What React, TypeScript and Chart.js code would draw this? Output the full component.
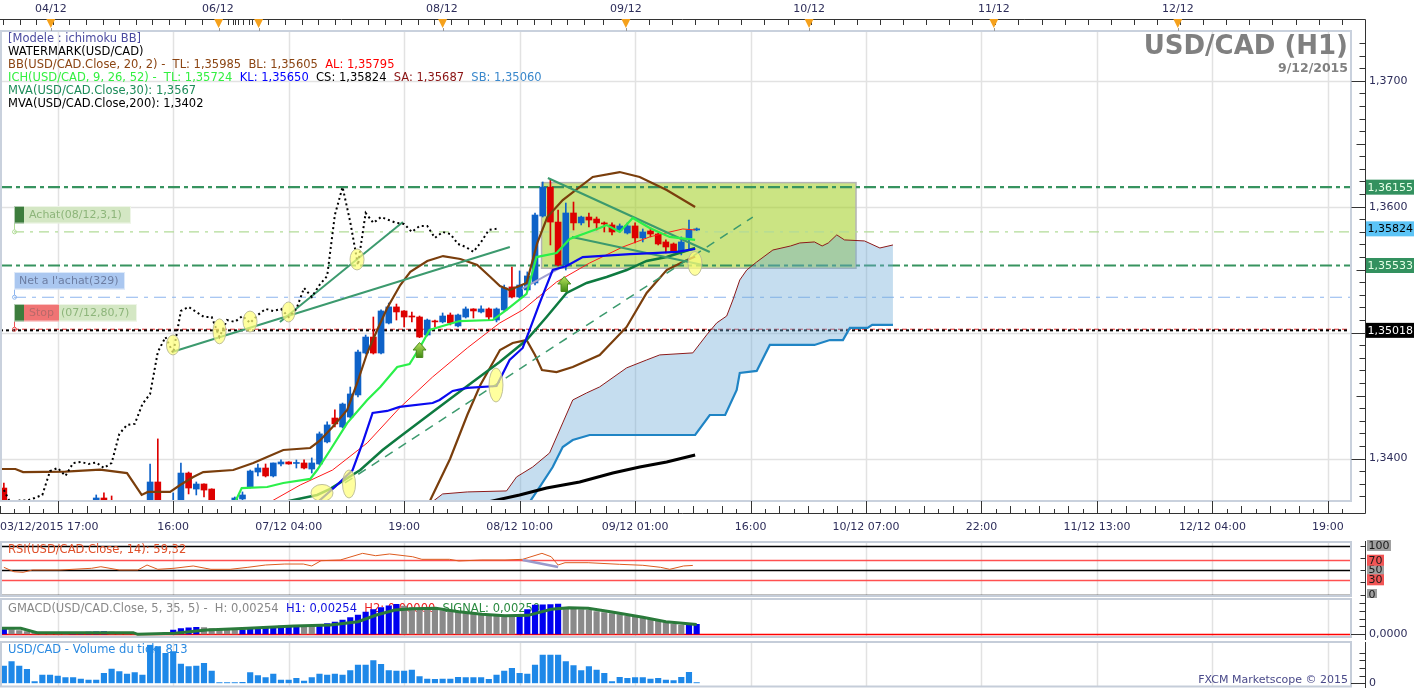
import React, { useEffect, useRef } from "react";
import { Chart, registerables } from "chart.js";

Chart.register(...registerables);

const FONT = '"DejaVu Sans", Verdana, sans-serif';
const X_MIN = -0.5;
const X_MAX = 175;
const PRICE_MIN = 1.33663;
const PRICE_MAX = 1.37395;

// ---------------- candles (hourly, index 0..90) ----------------
const opens = [1.33766,1.3362,1.3356,1.3359,1.336,1.3362,1.336,1.3361,1.3359,1.336,1.3358,1.3361,1.3364,1.33687,1.3365,1.336,1.3362,1.3363,1.3361,1.3364,1.33814,1.3363,1.3362,1.3364,1.33885,1.33758,1.33798,1.33758,1.3363,1.33635,1.3364,1.33679,1.33774,1.33893,1.33925,1.33862,1.33957,1.33973,1.33961,1.33965,1.33917,1.33957,1.34132,1.34322,1.34251,1.3433,1.34505,1.34838,1.34965,1.34838,1.35076,1.35204,1.35172,1.35132,1.35124,1.34981,1.35092,1.35085,1.3514,1.35053,1.35124,1.35188,1.35164,1.35188,1.351,1.3518,1.35363,1.35283,1.35339,1.35394,1.35926,1.36156,1.35878,1.35537,1.3595,1.35871,1.35918,1.35902,1.35871,1.35855,1.35815,1.35791,1.35847,1.35752,1.35807,1.35783,1.3572,1.35704,1.35641,1.35752,1.35815];
const highs = [1.33806,1.33645,1.3361,1.3363,1.3364,1.3365,1.3364,1.33645,1.3362,1.3363,1.3362,1.3365,1.33711,1.33727,1.33703,1.3364,1.3365,1.33655,1.3365,1.33957,1.34156,1.33655,1.33727,1.33965,1.33893,1.33814,1.338,1.3376,1.33668,1.33668,1.33695,1.33735,1.33909,1.33957,1.33957,1.33965,1.33989,1.33975,1.33989,1.33989,1.34005,1.34211,1.34291,1.34386,1.34441,1.34568,1.34862,1.34981,1.35124,1.3518,1.35235,1.35227,1.35175,1.35164,1.35132,1.35108,1.351,1.35156,1.35156,1.35148,1.35204,1.3519,1.35212,1.35196,1.35196,1.35378,1.35521,1.3549,1.35482,1.3595,1.36196,1.36212,1.35974,1.36029,1.36037,1.35925,1.3595,1.35918,1.35879,1.35871,1.35863,1.35871,1.35871,1.35823,1.35831,1.35791,1.35736,1.35712,1.3576,1.35894,1.35831];
const lows = [1.3358,1.3354,1.3353,1.3356,1.3357,1.3358,1.3357,1.3358,1.3356,1.3357,1.3355,1.3359,1.3362,1.3362,1.3358,1.3356,1.3359,1.3359,1.3358,1.3362,1.336,1.3358,1.336,1.3362,1.33719,1.33711,1.33695,1.336,1.336,1.3361,1.3362,1.33671,1.33766,1.33862,1.33854,1.33854,1.33941,1.33955,1.33925,1.33917,1.33885,1.3395,1.34124,1.34251,1.34243,1.34322,1.34489,1.3483,1.3483,1.3483,1.35069,1.351,1.35045,1.35085,1.3496,1.34973,1.35045,1.35077,1.35061,1.35045,1.35116,1.35116,1.35156,1.351,1.35085,1.35172,1.35275,1.35275,1.35331,1.35378,1.35918,1.35696,1.3553,1.35497,1.35815,1.35855,1.35839,1.35815,1.35799,1.35776,1.35799,1.35783,1.35712,1.3572,1.3576,1.35696,1.35633,1.35633,1.35617,1.35657,1.3581];
const closes = [1.3362,1.3356,1.3359,1.336,1.3362,1.336,1.3361,1.3359,1.336,1.3358,1.3361,1.3363,1.33687,1.33645,1.336,1.3362,1.3363,1.3361,1.3364,1.33814,1.3363,1.3364,1.33655,1.33885,1.33766,1.33798,1.3375,1.3363,1.33666,1.33666,1.33687,1.33711,1.33901,1.33925,1.33862,1.33965,1.33973,1.33957,1.33969,1.33925,1.33965,1.34196,1.34267,1.34275,1.34433,1.34513,1.34846,1.34965,1.34838,1.35172,1.35204,1.35164,1.35124,1.35124,1.34965,1.351,1.35085,1.35132,1.35077,1.3514,1.35188,1.35172,1.35188,1.35124,1.35188,1.35355,1.35283,1.35378,1.3545,1.35934,1.36156,1.35878,1.35537,1.3595,1.35871,1.35918,1.35894,1.35871,1.35863,1.35799,1.35847,1.35847,1.35752,1.35799,1.35783,1.35704,1.3568,1.35641,1.3572,1.35815,1.35824];
const CHIKOU_SHIFT = 26;

// ---------------- indicator lines: [bar index, price] ----------------
const bbUpper = [[-0.5,1.33917],[1.5,1.33917],[2.5,1.33893],[8.0,1.33896],[12.5,1.33912],[16.0,1.33885],[17.9,1.33711],[18.7,1.33735],[21.6,1.33735],[22.9,1.3379],[24.6,1.33854],[25.9,1.33893],[29.8,1.33909],[32.4,1.33965],[34.2,1.34012],[36.3,1.34068],[39.8,1.34084],[41.0,1.3414],[42.7,1.34251],[44.6,1.34386],[45.9,1.346],[47.2,1.34838],[48.5,1.35021],[49.8,1.35196],[51.5,1.35378],[52.8,1.35482],[55.0,1.35569],[57.05,1.35608],[59.3,1.35585],[61.5,1.35537],[63.2,1.35442],[64.45,1.3537],[65.7,1.35338],[67.9,1.35394],[69.3,1.35712],[70.6,1.35918],[72.6,1.36053],[76.5,1.36236],[80.0,1.36275],[82.6,1.36236],[86.1,1.36133],[89.8,1.35998]];
const bbLower = [[54.8,1.336],[55.4,1.33671],[57.96,1.33997],[60.2,1.34346],[61.9,1.34584],[64.45,1.34862],[66.1,1.34918],[67.9,1.34941],[69.0,1.34822],[69.9,1.34703],[71.8,1.34687],[73.9,1.34727],[77.4,1.34822],[80.9,1.35045],[83.5,1.35315],[86.1,1.35497],[88.2,1.35561],[89.8,1.35605]];
const bbMid = [[33.0,1.336],[38.5,1.3379],[42.7,1.33909],[47.2,1.34124],[51.4,1.34402],[55.7,1.34648],[60.2,1.34878],[64.4,1.35076],[67.4,1.3518],[71.8,1.35402],[76.1,1.35553],[80.4,1.3568],[83.9,1.3576],[86.5,1.35799],[88.2,1.35823],[89.8,1.35815]];
const tenkan = [[30.0,1.3365],[30.9,1.33766],[34.2,1.33774],[36.3,1.33806],[39.8,1.33838],[40.7,1.33909],[42.4,1.34068],[44.6,1.34282],[47.2,1.34465],[48.9,1.34568],[51.1,1.34727],[52.7,1.34751],[54.0,1.34878],[55.3,1.35021],[57.0,1.35053],[59.2,1.35092],[63.5,1.351],[65.3,1.3518],[67.9,1.35307],[69.2,1.356],[71.8,1.35632],[73.5,1.35744],[77.4,1.35831],[78.3,1.35855],[80.0,1.35799],[81.7,1.3591],[83.9,1.35831],[86.5,1.3576],[89.8,1.35736]];
const kijun = [[40.5,1.3364],[43.0,1.33774],[45.3,1.33909],[46.6,1.34124],[47.9,1.34362],[49.8,1.34378],[51.4,1.3441],[55.7,1.34441],[56.6,1.34465],[58.3,1.34537],[60.2,1.34561],[64.0,1.34576],[65.7,1.34783],[67.4,1.34878],[68.3,1.35021],[69.6,1.35235],[71.3,1.35497],[73.1,1.35529],[75.2,1.356],[81.3,1.35624],[84.3,1.35632],[87.4,1.35641],[89.8,1.35664]];
const senkouA = [[55.3,1.3364],[57.0,1.33719],[60.2,1.33735],[65.3,1.33743],[66.6,1.33854],[68.7,1.33933],[70.9,1.34045],[72.6,1.34283],[73.9,1.34465],[75.7,1.34521],[77.4,1.34569],[80.9,1.3472],[83.5,1.34783],[85.2,1.34823],[89.5,1.34839],[91.3,1.34982],[92.6,1.35077],[93.9,1.35132],[94.7,1.35259],[95.6,1.35418],[96.5,1.35497],[97.8,1.35561],[99.9,1.35656],[102.2,1.35688],[103.4,1.35712],[105.3,1.3572],[106.3,1.35688],[107.1,1.35712],[108.2,1.35776],[109.2,1.35736],[111.8,1.35728],[113.8,1.35672],[115.5,1.35696]];
const senkouB = [[55.3,1.335],[68.3,1.33655],[69.6,1.33774],[71.3,1.33933],[72.6,1.34092],[73.9,1.34147],[76.1,1.34187],[89.8,1.34187],[91.7,1.34346],[93.7,1.34346],[95.2,1.34545],[95.6,1.3468],[97.8,1.34696],[99.5,1.34902],[105.3,1.34902],[107.3,1.34941],[109.0,1.34941],[109.9,1.35037],[112.2,1.35037],[112.8,1.35061],[115.5,1.35061]];
const mva30 = [[36.0,1.3365],[40.7,1.33711],[42.4,1.33759],[46.3,1.33909],[49.2,1.34068],[51.4,1.34172],[55.7,1.3437],[60.2,1.34576],[64.4,1.34767],[67.9,1.34941],[70.5,1.35124],[73.1,1.35315],[75.7,1.35394],[78.3,1.35442],[80.9,1.35497],[83.5,1.35569],[86.1,1.356],[89.8,1.35672]];
const mva200 = [[62.5,1.3365],[67.0,1.33711],[70.5,1.33766],[74.8,1.33814],[79.1,1.33885],[82.6,1.33933],[86.1,1.33973],[89.8,1.34028]];

// drawn objects (bar index / price)
const trendLines = [[21.84,1.34846,65.73,1.3568],[35.86,1.35084,51.84,1.35878],[70.67,1.36228,91.7,1.3564],[73.79,1.35759,90.8,1.35537]];
const dashedTrend = [44.3,1.33806,97.29,1.35918];
const minorTrend = [67.3,1.35347,72.5,1.35522];
const zoneIdx = [69.85, 110.7];
const zonePrice = [1.36191, 1.35511];
const levelPrices = [1.36155, 1.35533, 1.358, 1.35281, 1.35027, 1.35018];
const ellipseIdx = [21.97, 28.01, 31.98, 36.98, 45.88, 41.33, 44.84, 63.93, 89.78];
const ellipsePrice = [1.34902, 1.3501, 1.35088, 1.35164, 1.35581, 1.33727, 1.33798, 1.34584, 1.35549];
const arrowIdx = [54.0, 72.8];
const arrowPrice = [1.34862, 1.35386];

// axes
const priceTicks = [1.34, 1.35, 1.36, 1.37];
const timeTickIdx = [7, 22, 37, 52, 67, 82, 97, 112, 127, 142, 157, 172];
const timeTickLabels = ["03/12/2015 17:00", "16:00", "07/12 04:00", "19:00", "08/12 10:00", "09/12 01:00", "16:00", "10/12 07:00", "22:00", "11/12 13:00", "12/12 04:00", "19:00"];
const topDateIdx = [6.1, 27.8, 56.9, 80.8, 104.6, 128.6, 152.5];
const topDateLabels = ["04/12", "06/12", "08/12", "09/12", "10/12", "11/12", "12/12"];
const topMarkerIdx = [6.1, 27.9, 33.1, 57.0, 80.8, 104.6, 128.6, 152.5];

// lower panels
const rsi = [[0,55.5],[1.3,46.5],[2.5,45.3],[3.7,50],[7.3,50],[11.4,53.5],[12.6,56.7],[15.0,50],[17.4,50],[18.6,60.2],[20.0,51.4],[22.1,53.5],[24.6,58.2],[26.9,51.4],[29.4,51.4],[31.7,55.5],[34.0,60.2],[36.5,62.2],[38.9,62.2],[40.0,58.2],[41.2,69],[43.7,70.4],[46.6,84],[48.3,79.2],[50.1,82.7],[53.1,77.1],[54.3,71.8],[57.9,71.8],[59.1,68.4],[62.1,70.4],[65.1,70.4],[67.4,71.8],[69.9,84],[71.1,77.1],[72.0,60.2],[72.9,64.9],[75.9,64.9],[80.0,61.6],[83.0,59.6],[85.3,55.5],[86.5,51.4],[88.3,58.2],[89.5,59.32]];
const rsiDivergence = [[67.4,70.4],[72.0,56.0]];
const rsiLevels = [100, 70, 50, 30, 0];
const macdHist = [0.00157,0.00118,0.00092,0.00066,0.00052,0.00039,0.00031,0.00026,0.00024,0.00026,0.00039,0.00052,0.0006,0.00063,0.00052,0.00039,0.00026,0.00016,0.0001,0.00008,0.00013,0.00031,0.00105,0.00144,0.00162,0.00176,0.00168,0.00144,0.00121,0.00105,0.00094,0.0011,0.00144,0.00168,0.00183,0.00197,0.0021,0.0022,0.00228,0.00215,0.00199,0.00236,0.00275,0.00314,0.00367,0.00432,0.00498,0.00576,0.00642,0.00694,0.00741,0.00778,0.00734,0.00694,0.00668,0.00655,0.00629,0.00616,0.00603,0.00584,0.0055,0.00524,0.00498,0.00485,0.00472,0.00453,0.00445,0.00466,0.00642,0.00755,0.00765,0.00773,0.00781,0.00655,0.00645,0.00637,0.00629,0.0059,0.00563,0.00537,0.00506,0.00472,0.00445,0.00419,0.00393,0.00354,0.00301,0.00262,0.00236,0.00246,0.00254];
const macdSignal = [[-0.5,0.00149],[2.2,0.00149],[4.3,0.00034],[16.8,0.00034],[17.4,-0.00009],[22.2,0.00018],[26.3,0.00105],[31.7,0.00149],[37.7,0.0021],[42.4,0.00236],[46.0,0.00323],[48.4,0.00498],[50.8,0.00629],[53.1,0.00664],[56.1,0.00672],[59.1,0.00585],[62.1,0.00515],[65.1,0.0048],[68.1,0.00489],[71.1,0.00646],[73.4,0.0069],[75.9,0.00672],[78.8,0.00585],[83.0,0.00437],[86.0,0.00323],[90.0,0.0025]];
const volumes = [22500,28100,22500,18200,2100,10800,10800,9500,7300,7300,5600,4300,4300,13000,18600,15100,12100,13800,10800,49800,47600,39000,41100,25100,21600,22500,26000,16000,800,800,800,1300,13800,10000,7300,12100,4300,4300,6500,3000,7300,12100,10800,12100,10800,16400,23800,23800,29400,24700,16400,16000,16000,17300,8600,5600,5200,5600,5600,7800,7300,7300,7300,5200,10800,16000,19500,13000,12100,23800,36800,36800,36800,28100,22900,16400,21600,17300,13000,2100,7800,6500,7300,7300,5600,6500,4300,3400,7800,14300,813];

// ---------------- helpers ----------------
const pts = (arr: number[][]) => arr.map(([x, y]) => ({ x, y }));
const fmt4 = (p: number) => p.toFixed(4).replace(".", ",");
const fmt5 = (p: number) => p.toFixed(5).replace(".", ",");

function seg(ctx: any, x1: number, y1: number, x2: number, y2: number) {
  ctx.beginPath();
  ctx.moveTo(x1, y1);
  ctx.lineTo(x2, y2);
  ctx.stroke();
}

function drawParts(ctx: any, x: number, y: number, parts: [string, string][]) {
  let cx = x;
  for (const [t, c] of parts) {
    ctx.fillStyle = c;
    ctx.fillText(t, cx, y);
    cx += ctx.measureText(t).width;
  }
}

function baseOptions(padding: any, yMin: number, yMax: number) {
  return {
    animation: false,
    responsive: false,
    maintainAspectRatio: false,
    events: [],
    layout: { padding },
    scales: {
      x: { type: "linear", min: X_MIN, max: X_MAX, display: false, offset: false },
      y: { type: "linear", min: yMin, max: yMax, display: false },
    },
    plugins: { legend: { display: false }, tooltip: { enabled: false } },
  } as any;
}

function vGrid(ctx: any, xs: any, top: number, bottom: number) {
  ctx.strokeStyle = "#e2e2e2";
  ctx.lineWidth = 1.5;
  timeTickIdx.forEach((t) => {
    const px = Math.round(xs.getPixelForValue(t)) + 0.5;
    seg(ctx, px, top, px, bottom);
  });
}

const AXIS_X = 1365.5;
const PLOT_R = 1351;

// ---------------- main panel plugin ----------------
const levelStyles = [
  { color: "#37935f", width: 2.2, dash: [12, 4, 4, 4], from: X_MIN },
  { color: "#37935f", width: 2.2, dash: [12, 4, 4, 4], from: X_MIN },
  { color: "#b2dc98", width: 1.2, dash: [10, 6, 3, 6], from: 1.32 },
  { color: "#8db5ee", width: 1.2, dash: [12, 6, 4, 6], from: 1.32 },
  { color: "#ee3030", width: 1, dash: [5, 3], from: 1.32 },
  { color: "#000000", width: 2, dash: [3, 3], from: X_MIN },
];
const ellipseRx = [6.5, 6.5, 7, 6.5, 7, 11, 6.5, 7, 7];
const ellipseRy = [10, 12.5, 10.5, 10, 10.5, 8.5, 14, 17, 12];

const mainPlugin = {
  id: "mainDecor",
  beforeDatasetsDraw(chart: any) {
    const { ctx, chartArea: a, scales } = chart;
    const xs = scales.x, ys = scales.y;
    ctx.save();
    vGrid(ctx, xs, a.top, a.bottom);
    priceTicks.forEach((p) => {
      const py = Math.round(ys.getPixelForValue(p)) + 0.5;
      seg(ctx, a.left, py, a.right, py);
    });
    // zone rectangle
    const zx1 = xs.getPixelForValue(zoneIdx[0]), zx2 = xs.getPixelForValue(zoneIdx[1]);
    const zy1 = ys.getPixelForValue(zonePrice[0]), zy2 = ys.getPixelForValue(zonePrice[1]);
    ctx.fillStyle = "rgba(160,205,30,0.55)";
    ctx.fillRect(zx1, zy1, zx2 - zx1, zy2 - zy1);
    ctx.strokeStyle = "#b4b4b4";
    ctx.lineWidth = 1.5;
    ctx.strokeRect(zx1, zy1, zx2 - zx1, zy2 - zy1);
    // horizontal levels
    levelPrices.forEach((p, k) => {
      const st = levelStyles[k];
      const py = ys.getPixelForValue(p);
      ctx.strokeStyle = st.color;
      ctx.lineWidth = st.width;
      ctx.setLineDash(st.dash);
      seg(ctx, Math.max(a.left, xs.getPixelForValue(st.from)), py, a.right, py);
    });
    ctx.setLineDash([]);
    ctx.restore();
  },
  afterDatasetsDraw(chart: any) {
    const { ctx, chartArea: a, scales } = chart;
    const xs = scales.x, ys = scales.y;
    ctx.save();
    ctx.beginPath();
    ctx.rect(a.left, a.top, a.right - a.left, a.bottom - a.top);
    ctx.clip();
    ellipseIdx.forEach((t, k) => {
      const cx = xs.getPixelForValue(t), cy = ys.getPixelForValue(ellipsePrice[k]);
      ctx.beginPath();
      ctx.ellipse(cx, cy, ellipseRx[k], ellipseRy[k], 0, 0, Math.PI * 2);
      ctx.fillStyle = "rgba(255,255,120,0.72)";
      ctx.fill();
      ctx.strokeStyle = "rgba(185,185,150,0.9)";
      ctx.lineWidth = 1;
      ctx.stroke();
    });
    arrowIdx.forEach((t, k) => {
      const cx = xs.getPixelForValue(t), cy = ys.getPixelForValue(arrowPrice[k]);
      const w = 13, h = 15, top = cy - h / 2;
      const g = ctx.createLinearGradient(0, top, 0, top + h);
      g.addColorStop(0, "#b8e35e");
      g.addColorStop(1, "#3f8a12");
      ctx.beginPath();
      ctx.moveTo(cx, top);
      ctx.lineTo(cx + w / 2, top + h * 0.5);
      ctx.lineTo(cx + w * 0.25, top + h * 0.5);
      ctx.lineTo(cx + w * 0.25, top + h);
      ctx.lineTo(cx - w * 0.25, top + h);
      ctx.lineTo(cx - w * 0.25, top + h * 0.5);
      ctx.lineTo(cx - w / 2, top + h * 0.5);
      ctx.closePath();
      ctx.fillStyle = g;
      ctx.fill();
      ctx.strokeStyle = "#4c8a1e";
      ctx.lineWidth = 1;
      ctx.stroke();
    });
    // order label boxes
    const x0 = Math.round(xs.getPixelForValue(1.32));
    ctx.font = `11px ${FONT}`;
    ctx.textBaseline = "middle";
    const boxes = [
      { price: levelPrices[2], color: "#b2dc98", parts: [{ w: 10, bg: "#3d7d3d" }, { w: 107, bg: "#d4e7c4", text: "Achat(08/12,3,1)", fg: "#8db57a", pad: 5 }] },
      { price: levelPrices[3], color: "#8db5ee", parts: [{ w: 111, bg: "#aac7f0", text: "Net a l'achat(329)", fg: "#6c7da2", pad: 5 }] },
      { price: levelPrices[4], color: "#ee5050", parts: [{ w: 10, bg: "#3d7d3d" }, { w: 35, bg: "#f07474", text: "Stop", fg: "#b86a6a", pad: 5 }, { w: 78, bg: "#d4e7c4", text: "(07/12,80,7)", fg: "#8db57a", pad: 2 }] },
    ];
    boxes.forEach((b) => {
      const ly = ys.getPixelForValue(b.price);
      const top = Math.round(ly - 25.5), h = 17.5;
      ctx.strokeStyle = b.color;
      ctx.lineWidth = 1;
      seg(ctx, x0 + 0.5, top + h, x0 + 0.5, ly - 2);
      ctx.beginPath();
      ctx.arc(x0 + 0.5, ly, 2, 0, Math.PI * 2);
      ctx.stroke();
      let cx = x0;
      b.parts.forEach((p: any) => {
        ctx.fillStyle = p.bg;
        ctx.fillRect(cx, top, p.w, h);
        if (p.text) {
          ctx.fillStyle = p.fg;
          ctx.fillText(p.text, cx + p.pad, top + h / 2 + 0.5);
        }
        cx += p.w;
      });
      ctx.strokeStyle = "rgba(255,255,255,0.6)";
      ctx.strokeRect(x0 + 0.5, top + 0.5, cx - x0 - 1, h - 1);
    });
    ctx.restore();
  },
  afterDraw(chart: any) {
    const { ctx, chartArea: a, scales } = chart;
    const xs = scales.x, ys = scales.y;
    ctx.save();
    // frame
    ctx.strokeStyle = "#c9d1dd";
    ctx.lineWidth = 2;
    ctx.strokeRect(a.left + 1, a.top, a.right - a.left - 1, a.bottom - a.top);
    // axes lines
    ctx.strokeStyle = "#333";
    ctx.lineWidth = 1;
    seg(ctx, 0, 19.5, AXIS_X, 19.5);
    seg(ctx, AXIS_X, 19.5, AXIS_X, 513.5);
    seg(ctx, 0, 513.5, AXIS_X, 513.5);
    // top strip ticks
    const topTicks: number[] = [];
    for (let t = -0.12; t < 77; t += 2.156) topTicks.push(t);
    for (let t = 77.8; t <= X_MAX; t += 3) topTicks.push(t);
    [29.1, 29.8, 30.4, 31.1, 31.8].forEach((t) => topTicks.push(t));
    topTicks.forEach((t) => {
      const px = Math.round(xs.getPixelForValue(t)) + 0.5;
      if (px < AXIS_X) seg(ctx, px, 19.5, px, 25);
    });
    ctx.font = `11px ${FONT}`;
    ctx.fillStyle = "#2d2d5a";
    ctx.textAlign = "center";
    ctx.textBaseline = "middle";
    topDateIdx.forEach((t, k) => ctx.fillText(topDateLabels[k], xs.getPixelForValue(t), 9));
    topMarkerIdx.forEach((t) => {
      const px = xs.getPixelForValue(t);
      ctx.fillStyle = "#f5a11c";
      ctx.beginPath();
      ctx.moveTo(px - 4.5, 19);
      ctx.lineTo(px + 4.5, 19);
      ctx.lineTo(px, 28);
      ctx.closePath();
      ctx.fill();
      ctx.strokeStyle = "#999";
      seg(ctx, Math.round(px) + 0.5, 28, Math.round(px) + 0.5, a.top);
    });
    // right price axis ticks
    ctx.strokeStyle = "#333";
    for (let k = 1337; k <= 1373; k++) {
      const p = k / 1000;
      const py = Math.round(ys.getPixelForValue(p)) + 0.5;
      const len = k % 10 === 0 ? 14 : k % 5 === 0 ? 9 : 6;
      seg(ctx, AXIS_X - len, py, AXIS_X, py);
    }
    ctx.textAlign = "left";
    ctx.fillStyle = "#2d2d5a";
    priceTicks.forEach((p) => ctx.fillText(fmt4(p), 1369, ys.getPixelForValue(p)));
    // bottom time axis
    for (let k = -4; k * (15 / 8) + 7 <= X_MAX; k++) {
      const t = 7 + (k * 15) / 8;
      const px = Math.round(xs.getPixelForValue(t)) + 0.5;
      if (px < 0 || px > AXIS_X) continue;
      const m = ((k % 8) + 8) % 8;
      const top = m === 0 ? a.bottom : m % 2 === 0 ? 506 : 509;
      seg(ctx, px, top, px, 513.5);
    }
    ctx.fillStyle = "#2d2d5a";
    ctx.textAlign = "center";
    timeTickIdx.forEach((t, k) => {
      let px = xs.getPixelForValue(t);
      const w = ctx.measureText(timeTickLabels[k]).width;
      if (px - w / 2 < 10) px = w / 2;
      ctx.fillText(timeTickLabels[k], px, 527.5);
    });
    // price boxes
    const boxP = [levelPrices[0], closes[closes.length - 1], levelPrices[1], levelPrices[5]];
    const boxBg = ["#33915f", "#5cc4f6", "#33915f", "#000000"];
    const boxFg = ["#e6ffe6", "#000000", "#e6ffe6", "#ffffff"];
    ctx.textAlign = "left";
    boxP.forEach((p, k) => {
      const py = ys.getPixelForValue(p);
      ctx.fillStyle = boxBg[k];
      ctx.fillRect(1366, py - 7.5, 48, 15);
      ctx.fillStyle = boxFg[k];
      ctx.fillText(fmt5(p), 1367.5, py + 0.5);
    });
    // legend text
    ctx.font = `11.5px ${FONT}`;
    ctx.textBaseline = "middle";
    const lx = 8;
    drawParts(ctx, lx, 39, [["[Modele : ichimoku BB]", "#4b4ba0"]]);
    drawParts(ctx, lx, 52, [["WATERMARK(USD/CAD)", "#000000"]]);
    drawParts(ctx, lx, 65, [["BB(USD/CAD.Close, 20, 2) -  TL: 1,35985  BL: 1,35605  ", "#8b4513"], ["AL: 1,35795", "#ff0000"]]);
    drawParts(ctx, lx, 78, [["ICH(USD/CAD, 9, 26, 52) -  TL: 1,35724  ", "#33f040"], ["KL: 1,35650  ", "#0000ff"], ["CS: 1,35824  ", "#000000"], ["SA: 1,35687  ", "#8b1414"], ["SB: 1,35060", "#3a88cc"]]);
    drawParts(ctx, lx, 91, [["MVA(USD/CAD.Close,30): 1,3567", "#1e8c5a"]]);
    drawParts(ctx, lx, 104, [["MVA(USD/CAD.Close,200): 1,3402", "#000000"]]);
    // title
    ctx.textAlign = "right";
    ctx.textBaseline = "alphabetic";
    ctx.fillStyle = "#808080";
    ctx.font = `bold 26px ${FONT}`;
    ctx.fillText("USD/CAD (H1)", 1348, 54);
    ctx.font = `bold 12.5px ${FONT}`;
    ctx.fillText("9/12/2015", 1348, 72);
    ctx.restore();
  },
};

// ---------------- lower panels ----------------
function panelFrame(ctx: any, top: number, bottom: number) {
  ctx.strokeStyle = "#c5cdd9";
  ctx.lineWidth = 2;
  ctx.strokeRect(1, top, PLOT_R - 1, bottom - top);
}

const rsiPlugin = {
  id: "rsiDecor",
  beforeDatasetsDraw(chart: any) {
    const { ctx, chartArea: a, scales } = chart;
    ctx.save();
    vGrid(ctx, scales.x, 2, 56);
    rsiLevels.forEach((l, k) => {
      const py = Math.round(scales.y.getPixelForValue(l)) + 0.5;
      ctx.strokeStyle = k % 2 === 0 ? "#000000" : "#ff5050";
      ctx.lineWidth = 1.3;
      seg(ctx, a.left, py, a.right, py);
    });
    ctx.font = `11.5px ${FONT}`;
    ctx.textBaseline = "middle";
    drawParts(ctx, 8, 10, [["RSI(USD/CAD.Close, 14): 59,32", "#e0502a"]]);
    ctx.restore();
  },
  afterDraw(chart: any) {
    const { ctx, scales } = chart;
    ctx.save();
    panelFrame(ctx, 2, 56);
    ctx.strokeStyle = "#333";
    ctx.lineWidth = 1;
    seg(ctx, AXIS_X, 1, AXIS_X, 58);
    [100, 75, 50, 25, 0].forEach((l) => {
      const py = Math.round(scales.y.getPixelForValue(l)) + 0.5;
      seg(ctx, AXIS_X - 5, py, AXIS_X, py);
    });
    ctx.font = `11px ${FONT}`;
    ctx.textBaseline = "middle";
    ctx.textAlign = "left";
    const order = [0, 2, 4, 1, 3];
    order.forEach((k) => {
      const l = rsiLevels[k];
      const py = scales.y.getPixelForValue(l);
      const t = String(l);
      const w = ctx.measureText(t).width + 3;
      ctx.fillStyle = k % 2 === 0 ? "#a0a0a0" : "#f25555";
      ctx.fillRect(1367, py - 5.5, w, 11);
      ctx.fillStyle = "#1a1a1a";
      ctx.fillText(t, 1368.5, py + 0.5);
    });
    ctx.restore();
  },
};

const macdPlugin = {
  id: "macdDecor",
  beforeDatasetsDraw(chart: any) {
    const { ctx, chartArea: a, scales } = chart;
    ctx.save();
    vGrid(ctx, scales.x, 1, 39);
    ctx.font = `11.5px ${FONT}`;
    ctx.textBaseline = "middle";
    drawParts(ctx, 8, 11, [["GMACD(USD/CAD.Close, 5, 35, 5) -  H: 0,00254  ", "#888888"], ["H1: 0,00254  ", "#1010e0"], ["H2: 0,00000  ", "#ee2020"], ["SIGNAL: 0,00250", "#2a8a40"]]);
    const zy = Math.round(scales.y.getPixelForValue(0)) + 0.5;
    ctx.strokeStyle = "#ff0000";
    ctx.lineWidth = 1.5;
    seg(ctx, a.left, zy, a.right, zy);
    ctx.restore();
  },
  afterDraw(chart: any) {
    const { ctx, scales } = chart;
    ctx.save();
    panelFrame(ctx, 1, 39);
    ctx.strokeStyle = "#333";
    ctx.lineWidth = 1;
    seg(ctx, AXIS_X, 0, AXIS_X, 42);
    [0.002, 0.004, 0.006, 0.008].forEach((v) => {
      const py = Math.round(scales.y.getPixelForValue(v)) + 0.5;
      seg(ctx, AXIS_X - 6, py, AXIS_X, py);
    });
    const zy = Math.round(scales.y.getPixelForValue(0)) + 0.5;
    seg(ctx, PLOT_R, zy, AXIS_X, zy);
    ctx.font = `11px ${FONT}`;
    ctx.textBaseline = "middle";
    ctx.fillStyle = "#2d2d5a";
    ctx.fillText("0,0000", 1369, zy);
    ctx.restore();
  },
};

const volPlugin = {
  id: "volDecor",
  beforeDatasetsDraw(chart: any) {
    const { ctx, scales } = chart;
    ctx.save();
    vGrid(ctx, scales.x, 2, 46);
    ctx.font = `11.5px ${FONT}`;
    ctx.textBaseline = "middle";
    drawParts(ctx, 8, 10, [["USD/CAD - Volume du tick: " + volumes[volumes.length - 1], "#2a8ae2"]]);
    ctx.restore();
  },
  afterDraw(chart: any) {
    const { ctx, scales } = chart;
    ctx.save();
    panelFrame(ctx, 2, 46.5);
    ctx.strokeStyle = "#333";
    ctx.lineWidth = 1;
    seg(ctx, AXIS_X, 2, AXIS_X, 48);
    [10000, 20000, 30000, 40000].forEach((v) => {
      const py = Math.round(scales.y.getPixelForValue(v)) + 0.5;
      seg(ctx, AXIS_X - 6, py, AXIS_X, py);
    });
    const zy = Math.round(scales.y.getPixelForValue(0)) + 0.5;
    seg(ctx, PLOT_R, zy, AXIS_X, zy);
    ctx.font = `11px ${FONT}`;
    ctx.textBaseline = "middle";
    ctx.fillStyle = "#2d2d5a";
    ctx.fillText("0", 1369, zy);
    ctx.textAlign = "right";
    ctx.fillStyle = "#4a4a8a";
    ctx.fillText("FXCM Marketscope © 2015", 1348, 40);
    ctx.restore();
  },
};

function line(data: any[], color: string, width: number, order: number, extra: any = {}) {
  return { type: "line", data, borderColor: color, borderWidth: width, pointRadius: 0, pointHoverRadius: 0, fill: false, tension: 0, order, ...extra };
}

export default function App() {
  const mainRef = useRef<HTMLCanvasElement>(null);
  const rsiRef = useRef<HTMLCanvasElement>(null);
  const macdRef = useRef<HTMLCanvasElement>(null);
  const volRef = useRef<HTMLCanvasElement>(null);

  useEffect(() => {
    const idx = closes.map((_, i) => i);
    const candleColors = closes.map((c, i) => (c >= opens[i] ? "#0e62c8" : "#dd0000"));
    const chikou = closes.slice(CHIKOU_SHIFT).map((c, i) => ({ x: i, y: c }));
    const seg2 = (s: number[]) => [{ x: s[0], y: s[1] }, { x: s[2], y: s[3] }];

    const mainChart = new Chart(mainRef.current as HTMLCanvasElement, {
      type: "bar",
      data: {
        datasets: [
          line(pts(senkouA), "#8b1a1a", 1, 300, { fill: "+1", backgroundColor: "rgba(110,170,215,0.4)" }),
          line(pts(senkouB), "#1f84c4", 2.2, 299),
          { type: "bar", data: idx.map((i) => ({ x: i, y: [lows[i], highs[i]] })), backgroundColor: candleColors, barThickness: 1, grouped: false, borderWidth: 0, order: 200 },
          { type: "bar", data: idx.map((i) => ({ x: i, y: [opens[i], closes[i]] })), backgroundColor: candleColors, barThickness: 6, minBarLength: 1, grouped: false, borderWidth: 0, order: 199 },
          line(pts(mva200), "#000000", 3, 90),
          line(pts(bbUpper), "#7a3e0c", 2.2, 80),
          line(pts(bbLower), "#7a3e0c", 2.2, 80),
          line(pts(bbMid), "#ff1a1a", 1, 75),
          line(pts(mva30), "#0e7a40", 2.5, 70),
          ...trendLines.map((t) => line(seg2(t), "#3c9a6e", 2, 65)),
          line(seg2(dashedTrend), "#3c9a6e", 1.5, 64, { borderDash: [9, 7] }),
          line(seg2(minorTrend), "#a0a0d0", 2, 63),
          line(pts(kijun), "#0a0af0", 2.2, 60),
          line(pts(tenkan), "#2bf04a", 2.2, 55),
          line(chikou, "#000000", 2, 50, { borderDash: [2, 3] }),
        ] as any,
      },
      options: baseOptions({ left: 0, right: 72, top: 31, bottom: 39 }, PRICE_MIN, PRICE_MAX),
      plugins: [mainPlugin as any],
    });

    const rsiChart = new Chart(rsiRef.current as HTMLCanvasElement, {
      type: "line",
      data: {
        datasets: [
          line(pts(rsiDivergence), "#9a9acc", 2.5, 1),
          line(pts(rsi), "#dd5a1e", 1, 2),
        ] as any,
      },
      options: baseOptions({ left: 0, right: 72, top: 5.5, bottom: 3.5 }, 0, 100),
      plugins: [rsiPlugin as any],
    });

    const macdColors = macdHist.map((v, i) => (i === 0 || v >= macdHist[i - 1] ? "#0000f0" : "#8a8a8a"));
    const macdChart = new Chart(macdRef.current as HTMLCanvasElement, {
      type: "bar",
      data: {
        datasets: [
          line(pts(macdSignal), "#2a7a3a", 3, 1),
          { type: "bar", data: macdHist.map((v, i) => ({ x: i, y: v })), backgroundColor: macdColors, barThickness: 5.5, grouped: false, borderWidth: 0, order: 2 },
        ] as any,
      },
      options: baseOptions({ left: 0, right: 72, top: 2, bottom: 3.5 }, -0.000655, 0.008908),
      plugins: [macdPlugin as any],
    });

    const volChart = new Chart(volRef.current as HTMLCanvasElement, {
      type: "bar",
      data: {
        datasets: [
          { type: "bar", data: volumes.map((v, i) => ({ x: i, y: v })), backgroundColor: "#1e88e8", barThickness: 5.5, grouped: false, borderWidth: 0, order: 1 },
        ] as any,
      },
      options: baseOptions({ left: 0, right: 72, top: 4.5, bottom: 4.7 }, 0, 50440),
      plugins: [volPlugin as any],
    });

    return () => {
      mainChart.destroy();
      rsiChart.destroy();
      macdChart.destroy();
      volChart.destroy();
    };
  }, []);

  const cv = (top: number, h: number) => ({ position: "absolute" as const, left: 0, top, width: 1423, height: h });
  return (
    <div style={{ position: "absolute", left: 0, top: 0, width: 1423, height: 688, background: "#ffffff", overflow: "hidden" }}>
      <canvas ref={mainRef} width={1423} height={540} style={cv(0, 540)} />
      <canvas ref={rsiRef} width={1423} height={58} style={cv(540, 58)} />
      <canvas ref={macdRef} width={1423} height={42} style={cv(598, 42)} />
      <canvas ref={volRef} width={1423} height={48} style={cv(640, 48)} />
    </div>
  );
}
